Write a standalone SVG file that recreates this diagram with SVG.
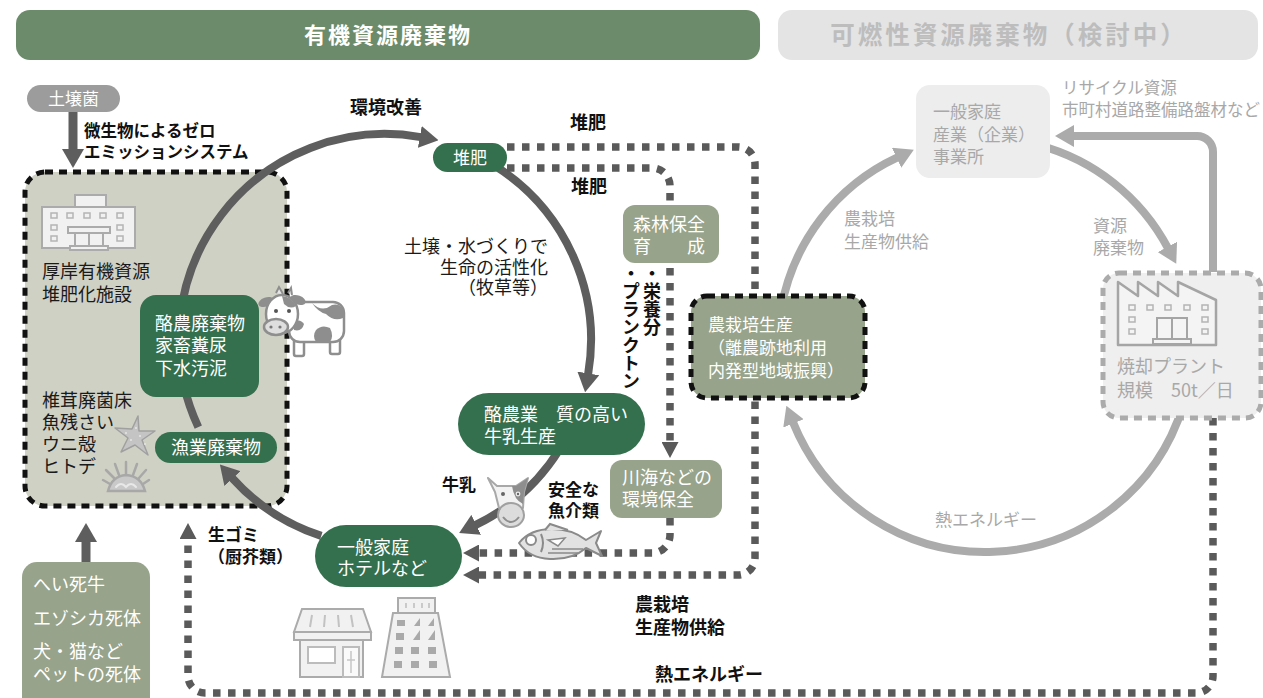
<svg xmlns="http://www.w3.org/2000/svg" width="1263" height="698" viewBox="0 0 1263 698">
<style>
text{font-family:"Noto Sans CJK JP","Noto Sans",sans-serif;}
.hd{font-size:22px;font-weight:700;text-anchor:middle;letter-spacing:2px}
.w{fill:#fff;font-size:18px}
.k{fill:#1a1a1a;font-size:18px}
.kb{fill:#111;font-size:18px;font-weight:700}
.vt{fill:#111;font-size:18px;font-weight:700;writing-mode:vertical-rl}
.g{fill:#a8a8a8;font-size:18px}
.s17{font-size:17px}
.s16{font-size:16.5px}
.dot{fill:none;stroke:#5a5a5a;stroke-width:7.5;stroke-dasharray:7.5 7.5}
.arc{fill:none;stroke:#5e5e5e;stroke-width:8}
.arcg{fill:none;stroke:#ababab;stroke-width:8}
.dg{fill:#34704d}
.ol{fill:#97a38a}
.bd{stroke:#111;stroke-width:5;stroke-dasharray:8 6}
.ic{fill:#f1f1f1;stroke:#ababab;stroke-width:2}
.icd{fill:#a9a9a9}
</style>
<defs>
<marker id="ah" markerUnits="userSpaceOnUse" markerWidth="19" markerHeight="22" viewBox="0 0 19 22" refX="1" refY="11" orient="auto"><path d="M0,0 L19,11 L0,22 z" fill="#5e5e5e"/></marker>
<marker id="ahg" markerUnits="userSpaceOnUse" markerWidth="19" markerHeight="22" viewBox="0 0 19 22" refX="1" refY="11" orient="auto"><path d="M0,0 L19,11 L0,22 z" fill="#ababab"/></marker>
<marker id="ahd" markerUnits="userSpaceOnUse" markerWidth="16" markerHeight="17" viewBox="0 0 16 17" refX="0" refY="8.5" orient="auto"><path d="M0,0 L16,8.5 L0,17 z" fill="#5a5a5a"/></marker>
</defs>

<!-- section headers -->
<g id="header-organic">
<rect x="16" y="10" width="744" height="50" rx="14" fill="#6b8b6a"/>
<text class="hd" x="388" y="43" fill="#fff">有機資源廃棄物</text>
</g>
<g id="header-combustible">
<rect x="778" y="10" width="480" height="50" rx="14" fill="#e4e4e4"/>
<text class="hd" x="1009" y="44" fill="#bdbdbd" style="font-size:24.5px;letter-spacing:3px">可燃性資源廃棄物（検討中）</text>
</g>

<!-- compost facility panel -->
<g id="facility">
<rect x="25" y="172" width="262" height="334" rx="20" fill="#d0d1c5" class="bd"/>
<g id="facility-icon">
<rect x="75" y="195" width="31" height="13" class="ic"/>
<rect x="42" y="207" width="93" height="41" class="ic"/>
<g fill="none" stroke="#b4b4b4" stroke-width="1.5">
<rect x="51" y="213" width="6" height="5"/><rect x="67" y="213" width="6" height="5"/><rect x="84" y="213" width="6" height="5"/><rect x="100" y="213" width="6" height="5"/><rect x="117" y="213" width="6" height="5"/>
<rect x="51" y="225" width="6" height="5"/><rect x="117" y="225" width="6" height="5"/>
<rect x="51" y="236" width="6" height="5"/><rect x="117" y="236" width="6" height="5"/>
</g>
<rect x="68" y="227" width="42" height="6" class="ic"/>
<rect x="75" y="233" width="28" height="14" class="ic"/>
<line x1="89" y1="233" x2="89" y2="247" stroke="#ababab" stroke-width="2"/>
<rect x="70" y="246" width="38" height="4" class="ic"/>
</g>
<text class="k"><tspan x="42" y="278">厚岸有機資源</tspan><tspan x="42" y="301">堆肥化施設</tspan></text>
<text class="k"><tspan x="42" y="407">椎茸廃菌床</tspan><tspan x="42" y="429">魚残さい</tspan><tspan x="42" y="451">ウニ殻</tspan><tspan x="42" y="473">ヒトデ</tspan></text>
<g id="starfish">
<polygon points="138,416 139,431 155,431 142,440 148,455 135,445 121,452 128,438 115,428 132,429" fill="#c4c4c4" stroke="#a0a0a0" stroke-width="1.5" stroke-linejoin="round"/>
<g fill="#e6e6e6"><circle cx="136" cy="428" r="1"/><circle cx="140" cy="436" r="1"/><circle cx="131" cy="440" r="1"/><circle cx="145" cy="444" r="1"/><circle cx="126" cy="433" r="1"/></g>
</g>
<g id="urchin" stroke="#a8a8a8" stroke-width="2.5" stroke-linecap="round" fill="none">
<path d="M108,491 Q112,476 126,475 Q141,476 145,491 Z" fill="#c9c9c9"/>
<line x1="114" y1="478" x2="106" y2="470"/><line x1="119" y1="475" x2="115" y2="464"/><line x1="126" y1="474" x2="126" y2="462"/><line x1="133" y1="475" x2="137" y2="464"/><line x1="139" y1="478" x2="146" y2="470"/><line x1="110" y1="484" x2="103" y2="480"/><line x1="143" y1="484" x2="149" y2="480"/>
<path d="M116,487 Q121,481 126,487 Q131,481 136,487" stroke="#e8e8e8" stroke-width="2"/>
</g>
</g>

<!-- connectors -->
<g id="connectors">
<!-- main cycle -->
<path class="arc" d="M321.3,535.9 A206,206 0 0 1 231.9,477.8" marker-end="url(#ah)"/>
<path class="arc" d="M198.3,427.1 A206,206 0 0 1 420.8,137.1" marker-end="url(#ah)"/>
<path class="arc" d="M494.2,165.3 A206,206 0 0 1 588.1,374.4" marker-end="url(#ah)"/>
<path class="arc" d="M559.7,449.2 A206,206 0 0 1 475.3,525.2" marker-end="url(#ah)"/>
<!-- supply arrows into the facility -->
<path class="arc" style="stroke-width:9px" d="M73,112 V150" marker-end="url(#ah)"/>
<path class="arc" style="stroke-width:9px" d="M86,562 V541" marker-end="url(#ah)"/>
<!-- dotted flows -->
<path class="dot" d="M507,147 H738 A17,17 0 0 1 755,164 V558 A17,17 0 0 1 738,575 H479" marker-end="url(#ahd)"/>
<path class="dot" d="M507,168 H652 A18,18 0 0 1 670,186 V442" marker-end="url(#ahd)"/>
<path class="dot" d="M670,518 V535 A18,18 0 0 1 652,553 H479" marker-end="url(#ahd)"/>
<path class="dot" d="M1213,418 V676 A17,17 0 0 1 1196,693 H205 A17,17 0 0 1 188,676 V539" marker-end="url(#ahd)"/>
<!-- combustible cycle -->
<path class="arcg" d="M781.1,309.1 A207,207 0 0 1 897.5,157.4" marker-end="url(#ahg)"/>
<path class="arcg" d="M1038.6,145.1 A207,207 0 0 1 1167.8,247.8" marker-end="url(#ahg)"/>
<path class="arcg" d="M1183,405.5 A207,207 0 0 1 793.1,422.5" marker-end="url(#ahg)"/>
<path class="arcg" d="M1213,272 V152 A16,16 0 0 0 1197,136 H1073" marker-end="url(#ahg)"/>
</g>

<!-- nodes -->
<g id="soil-bacteria">
<rect x="27" y="85" width="93" height="27" rx="13.5" fill="#9c9c9c"/>
<text class="w s17" x="73.5" y="104.5" text-anchor="middle">土壌菌</text>
</g>
<g id="dairy-waste">
<rect x="140" y="295" width="119" height="102" rx="16" class="dg"/>
<text class="w"><tspan x="155" y="330">酪農廃棄物</tspan><tspan x="155" y="352">家畜糞尿</tspan><tspan x="155" y="375">下水汚泥</tspan></text>
</g>
<g id="fishery-waste">
<rect x="155" y="432" width="122" height="31" rx="15.5" class="dg"/>
<text class="w" x="216" y="454" text-anchor="middle">漁業廃棄物</text>
</g>
<g id="compost">
<rect x="433" y="143" width="74" height="29" rx="14.5" class="dg"/>
<text class="w s17" x="470" y="163.5" text-anchor="middle">堆肥</text>
</g>
<g id="dairy">
<rect x="458" y="393" width="187" height="62" rx="31" class="dg"/>
<text class="w"><tspan x="484" y="421">酪農業　質の高い</tspan><tspan x="484" y="443">牛乳生産</tspan></text>
</g>
<g id="households">
<rect x="315" y="525" width="147" height="62" rx="31" class="dg"/>
<text class="w"><tspan x="337" y="554">一般家庭</tspan><tspan x="337" y="575">ホテルなど</tspan></text>
</g>
<g id="forest">
<rect x="623" y="205" width="96" height="58" rx="12" class="ol"/>
<text class="w"><tspan x="633" y="231">森林保全</tspan><tspan x="633" y="253">育　　成</tspan></text>
</g>
<g id="river-sea">
<rect x="610" y="460" width="112" height="58" rx="12" class="ol"/>
<text class="w"><tspan x="622" y="484">川海などの</tspan><tspan x="622" y="506">環境保全</tspan></text>
</g>
<g id="farming">
<rect x="691" y="296" width="174" height="102" rx="16" class="ol bd"/>
<text class="w s17"><tspan x="708" y="331">農栽培生産</tspan><tspan x="708" y="354">（離農跡地利用</tspan><tspan x="708" y="377">内発型地域振興）</tspan></text>
</g>
<g id="carcasses">
<rect x="22" y="562" width="128" height="150" rx="15" class="ol"/>
<text class="w"><tspan x="33" y="591">へい死牛</tspan><tspan x="33" y="625">エゾシカ死体</tspan><tspan x="33" y="658">犬・猫など</tspan><tspan x="33" y="681">ペットの死体</tspan></text>
</g>
<g id="consumers">
<rect x="916" y="85" width="134" height="93" rx="14" fill="#ededed"/>
<text class="g s17"><tspan x="933" y="118">一般家庭</tspan><tspan x="933" y="141">産業（企業）</tspan><tspan x="933" y="163">事業所</tspan></text>
</g>
<g id="incinerator">
<rect x="1103" y="273" width="158" height="145" rx="16" fill="#efefef" stroke="#ababab" stroke-width="5" stroke-dasharray="8 6"/>
<path d="M1118,345 V282 L1138,296 V282 L1158,296 V282 L1178,296 V282 L1216,300 V345 Z" fill="#f4f4f4" stroke="#a5a5a5" stroke-width="2.5" stroke-linejoin="round"/>
<g fill="none" stroke="#b4b4b4" stroke-width="1.5">
<rect x="1129" y="305" width="6" height="5"/><rect x="1147" y="305" width="6" height="5"/><rect x="1165" y="305" width="6" height="5"/><rect x="1184" y="305" width="6" height="5"/><rect x="1202" y="305" width="6" height="5"/>
<rect x="1129" y="317" width="6" height="5"/><rect x="1202" y="317" width="6" height="5"/>
<rect x="1129" y="329" width="6" height="5"/><rect x="1202" y="329" width="6" height="5"/>
</g>
<rect x="1157" y="318" width="30" height="21" fill="none" stroke="#a5a5a5" stroke-width="2"/>
<line x1="1172" y1="318" x2="1172" y2="339" stroke="#a5a5a5" stroke-width="2"/>
<rect x="1153" y="339" width="38" height="5" fill="#f4f4f4" stroke="#a5a5a5" stroke-width="2"/>
<text class="g"><tspan x="1117" y="373">焼却プラント</tspan><tspan x="1117" y="397">規模　50t／日</tspan></text>
</g>

<!-- illustrations -->
<g id="cow">
<rect x="294" y="336" width="10" height="20" rx="2" fill="#fff" stroke="#8e8e8e" stroke-width="2.5"/>
<rect x="330" y="334" width="10" height="20" rx="2" fill="#fff" stroke="#8e8e8e" stroke-width="2.5"/>
<rect x="289" y="302" width="55" height="40" rx="11" fill="#fff" stroke="#8e8e8e" stroke-width="2.5"/>
<path d="M312,303 Q322,313 332,305 Q340,303 343,310 L343,318 Q334,322 326,314 Q318,312 312,303 Z" fill="#8e8e8e"/>
<path d="M316,330 Q322,324 330,328 Q334,336 330,342 L316,342 Q312,336 316,330 Z" fill="#8e8e8e"/>
<path d="M294,322 Q300,318 304,324 Q302,332 294,330 Z" fill="#8e8e8e"/>
<ellipse cx="266" cy="302" rx="8" ry="4.5" fill="#8e8e8e" transform="rotate(-20 266 302)"/>
<ellipse cx="298" cy="300" rx="8" ry="4.5" fill="#8e8e8e" transform="rotate(20 298 300)"/>
<path d="M276,293 L279,287 L283,294 M288,293 L291,288 L292,295" fill="#e6e6e6" stroke="#8e8e8e" stroke-width="2"/>
<ellipse cx="282" cy="314" rx="16" ry="19" fill="#fff" stroke="#8e8e8e" stroke-width="2.5"/>
<path d="M282,296 Q292,297 296,306 Q290,310 284,304 Z" fill="#8e8e8e"/>
<circle cx="276" cy="311" r="2" fill="#555"/><circle cx="289" cy="311" r="2" fill="#555"/>
<ellipse cx="276" cy="327" rx="12" ry="8" fill="#dedede" stroke="#8e8e8e" stroke-width="2.5"/>
<circle cx="271" cy="327" r="1.6" fill="#777"/><circle cx="280" cy="327" r="1.6" fill="#777"/>
</g>
<g id="cow-head">
<path d="M488,478 L497,486 L516,486 L528,478 L524,492 L523,508 L499,508 L495,492 Z" fill="#f2f2f2" stroke="#a8a8a8" stroke-width="2" stroke-linejoin="round"/>
<path d="M512,486 L516,486 L528,478 L524,492 L523,504 Q514,500 512,486 Z" fill="#8e8e8e"/>
<circle cx="503" cy="494" r="2" fill="#666"/><circle cx="518" cy="494" r="2.4" fill="#eee"/><circle cx="518" cy="494" r="1.2" fill="#666"/>
<ellipse cx="511" cy="515" rx="13" ry="12" fill="#dcdcdc" stroke="#a0a0a0" stroke-width="2"/>
<path d="M503,517 Q511,527 519,517" fill="none" stroke="#8e8e8e" stroke-width="2"/>
</g>
<g id="fish">
<path d="M519,543 Q530,529 552,529 Q572,529 586,540 L601,531 L596,543 L602,556 L586,548 Q572,560 550,559 Q529,558 519,543 Z" fill="#e2e2e2" stroke="#8a8a8a" stroke-width="2" stroke-linejoin="round"/>
<path d="M545,530 L550,524 L568,530" fill="#e2e2e2" stroke="#8a8a8a" stroke-width="2"/>
<circle cx="531" cy="540" r="5" fill="#fff" stroke="#8a8a8a" stroke-width="2"/>
<path d="M541,534 Q545,543 541,552" fill="none" stroke="#8a8a8a" stroke-width="2"/>
<path d="M548,540 L565,538 L558,546 Z" fill="#fff" stroke="#8a8a8a" stroke-width="1.5"/>
<path d="M552,549 H583 M548,553 H578" stroke="#8a8a8a" stroke-width="1.5"/>
</g>
<g id="shop">
<path d="M302,609 H363 L371,632 H294 Z" class="ic"/>
<rect x="294" y="632" width="77" height="8" class="ic"/>
<path d="M312,615 L310,627 M325,615 L324,627 M338,615 L339,627 M351,615 L353,627" stroke="#c2c2c2" stroke-width="2"/>
<rect x="300" y="640" width="63" height="37" class="ic"/>
<rect x="308" y="647" width="27" height="16" fill="#fff" stroke="#bcbcbc" stroke-width="2"/>
<rect x="343" y="647" width="16" height="30" fill="#fafafa" stroke="#bcbcbc" stroke-width="2"/>
<path d="M351,651 V673 M347,660 H355" stroke="#c6c6c6" stroke-width="1.5"/>
</g>
<g id="hotel">
<rect x="398" y="598" width="37" height="15" class="ic"/>
<path d="M406,603 V608 M414,603 V608 M422,603 V608 M429,603 V608" stroke="#bdbdbd" stroke-width="1.5"/>
<path d="M393,613 H438 L450,677 H382 Z" class="ic"/>
<g class="icd">
<rect x="397" y="620" width="8" height="6"/><path d="M414,626 L420,618 L420,626 Z"/><path d="M428,626 L434,618 L434,626 Z"/>
<rect x="396" y="633" width="8" height="7"/><path d="M413,640 L420,630 L420,640 Z"/><path d="M428,640 L435,630 L435,640 Z"/>
<rect x="395" y="647" width="8" height="7"/><rect x="411" y="647" width="8" height="7"/><rect x="428" y="647" width="8" height="7"/>
<rect x="394" y="661" width="8" height="7"/><rect x="411" y="661" width="8" height="7"/><rect x="429" y="661" width="8" height="7"/>
</g>
</g>

<!-- labels -->
<g id="labels">
<text class="kb s16"><tspan x="84" y="137">微生物によるゼロ</tspan><tspan x="84" y="158">エミッションシステム</tspan></text>
<text class="kb" x="350" y="114">環境改善</text>
<text class="kb" x="570" y="129">堆肥</text>
<text class="kb" x="571" y="193">堆肥</text>
<text class="k" text-anchor="end"><tspan x="548" y="253">土壌・水づくりで</tspan><tspan x="548" y="274">生命の活性化</tspan><tspan x="548" y="294">（牧草等）</tspan></text>
<text class="vt" x="652" y="264">・栄養分</text>
<text class="vt" x="631" y="264">・プランクトン</text>
<text class="kb s17" x="442" y="491">牛乳</text>
<text class="kb s17"><tspan x="548" y="496">安全な</tspan><tspan x="548" y="517">魚介類</tspan></text>
<text class="kb s17"><tspan x="208" y="541">生ゴミ</tspan><tspan x="208" y="563">（厨芥類）</tspan></text>
<text class="kb"><tspan x="635" y="611">農栽培</tspan><tspan x="635" y="634">生産物供給</tspan></text>
<text class="kb" x="655" y="681">熱エネルギー</text>
<text class="g s16"><tspan x="1062" y="94">リサイクル資源</tspan><tspan x="1062" y="116">市町村道路整備路盤材など</tspan></text>
<text class="g s17"><tspan x="844" y="225">農栽培</tspan><tspan x="844" y="248">生産物供給</tspan></text>
<text class="g s17"><tspan x="1093" y="232">資源</tspan><tspan x="1093" y="254">廃棄物</tspan></text>
<text class="g s17" x="935" y="526">熱エネルギー</text>
</g>
</svg>
